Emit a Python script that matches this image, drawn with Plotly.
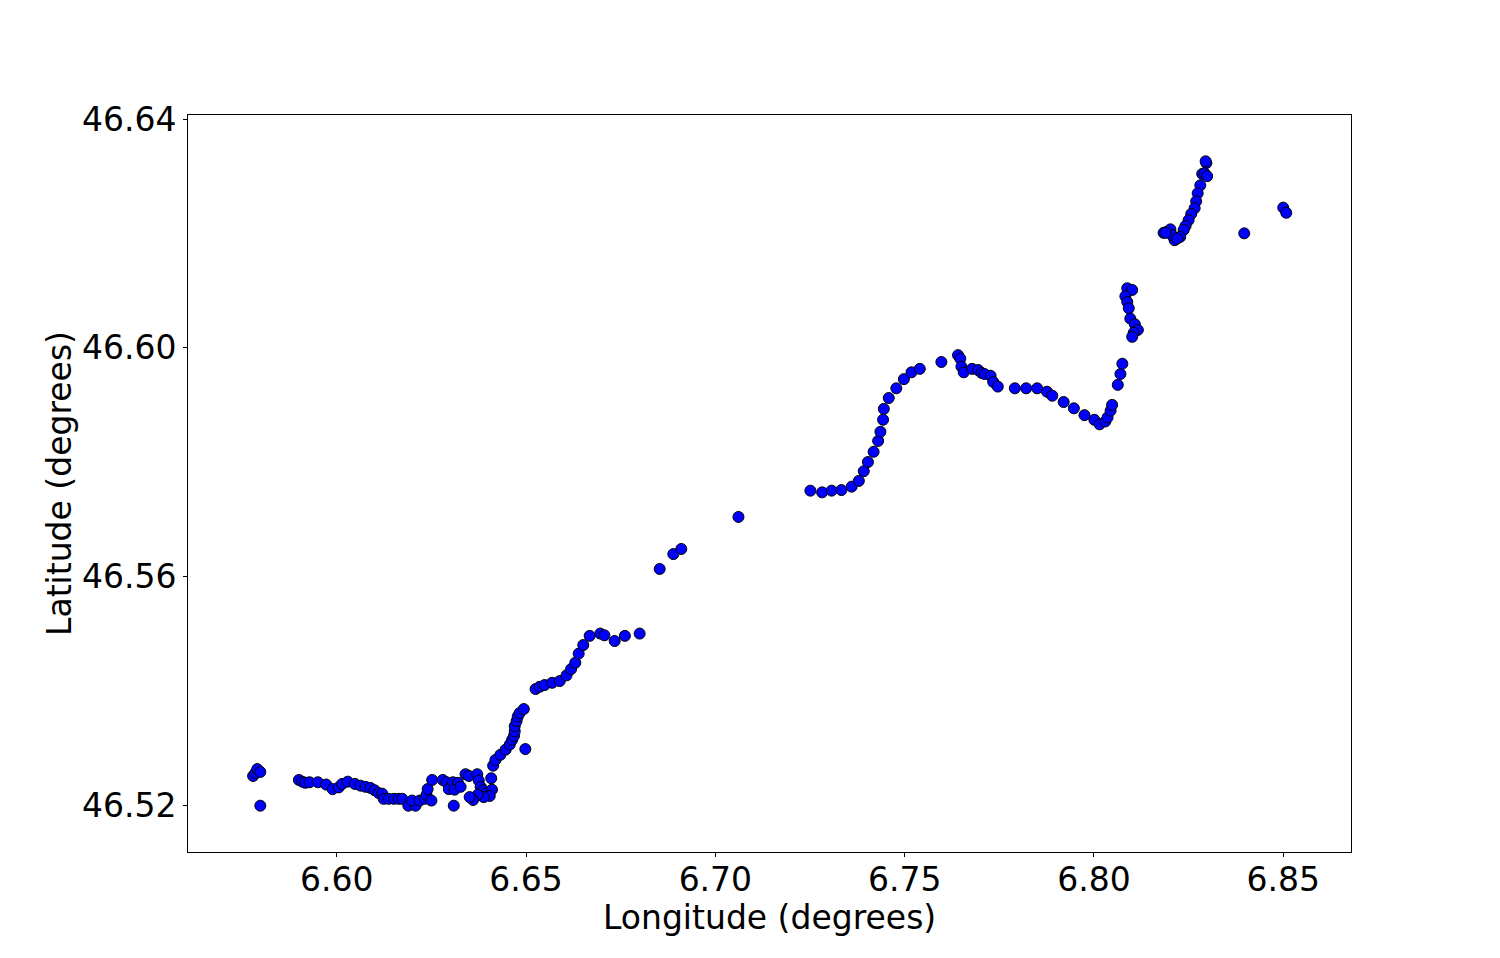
import plotly.graph_objects as go

lon = [
    6.5779, 6.5785, 6.5790, 6.5798, 6.5798,
    6.5900, 6.5909, 6.5917, 6.5928, 6.5950, 6.5972, 6.5989, 6.6005, 6.6014, 6.6029,
    6.6048, 6.6063, 6.6076, 6.6089, 6.6100, 6.6111, 6.6120, 6.6124, 6.6137, 6.6151,
    6.6164, 6.6173, 6.6189, 6.6208, 6.6199, 6.6219, 6.6232, 6.6237, 6.6240, 6.6250,
    6.6252, 6.6280, 6.6290, 6.6296, 6.6307, 6.6320, 6.6311, 6.6327, 6.6309, 6.6340,
    6.6349, 6.6371, 6.6375, 6.6380, 6.6387, 6.6395, 6.6408, 6.6410, 6.6404, 6.6388,
    6.6372, 6.6360, 6.6351, 6.6498,
    6.6413, 6.6419, 6.6432, 6.6446, 6.6457, 6.6463, 6.6468, 6.6470, 6.6470, 6.6475,
    6.6478, 6.6483, 6.6494, 6.6525, 6.6536, 6.6549, 6.6569, 6.6589, 6.6607, 6.6619,
    6.6630, 6.6639, 6.6651, 6.6668, 6.6696, 6.6707, 6.6734, 6.6761, 6.6800,
    6.6853, 6.6889, 6.6910, 6.7061,
    6.7251, 6.7282, 6.7307, 6.7333, 6.7360, 6.7379, 6.7392, 6.7403, 6.7418, 6.7430,
    6.7436, 6.7443, 6.7445, 6.7458, 6.7478, 6.7498, 6.7518, 6.7540, 6.7597, 6.7641,
    6.7647, 6.7650, 6.7656, 6.7678, 6.7694, 6.7703, 6.7711, 6.7727, 6.7734, 6.7746,
    6.7791, 6.7821, 6.7850, 6.7876, 6.7890, 6.7920, 6.7947, 6.7975, 6.8001, 6.8015,
    6.8030, 6.8036, 6.8044, 6.8048, 6.8063, 6.8070, 6.8075,
    6.8088, 6.8101, 6.8083, 6.8088, 6.8092, 6.8096, 6.8108, 6.8116, 6.8105, 6.8101,
    6.8297, 6.8295, 6.8286, 6.8292, 6.8299, 6.8281, 6.8274, 6.8270, 6.8266, 6.8257,
    6.8250, 6.8242, 6.8237, 6.8228, 6.8213, 6.8193, 6.8184, 6.8202, 6.8206, 6.8220,
    6.8189,
    6.8397, 6.8500, 6.8508,
]

lat = [
    46.5251, 46.5256, 46.5263, 46.5258, 46.5199,
    46.5244, 46.5241, 46.5239, 46.5240, 46.5240, 46.5236, 46.5228, 46.5231, 46.5237, 46.5241,
    46.5237, 46.5234, 46.5232, 46.5230, 46.5226, 46.5221, 46.5220, 46.5211, 46.5211, 46.5211,
    46.5211, 46.5211, 46.5199, 46.5199, 46.5208, 46.5208, 46.5211, 46.5218, 46.5228, 46.5208,
    46.5244, 46.5244, 46.5240, 46.5228, 46.5240, 46.5239, 46.5227, 46.5232, 46.5199, 46.5254,
    46.5251, 46.5254, 46.5243, 46.5232, 46.5226, 46.5221, 46.5247, 46.5227, 46.5216, 46.5214,
    46.5218, 46.5209, 46.5214, 46.5298,
    46.5269, 46.5279, 46.5288, 46.5297, 46.5306, 46.5314, 46.5321, 46.5329, 46.5338, 46.5347,
    46.5355, 46.5361, 46.5368, 46.5403, 46.5407, 46.5410, 46.5414, 46.5417, 46.5427, 46.5438,
    46.5449, 46.5465, 46.5480, 46.5496, 46.5500, 46.5497, 46.5487, 46.5496, 46.5500,
    46.5613, 46.5639, 46.5648, 46.5704,
    46.5750, 46.5747, 46.5750, 46.5751, 46.5757, 46.5767, 46.5784, 46.5800, 46.5818, 46.5837,
    46.5853, 46.5874, 46.5893, 46.5912, 46.5929, 46.5945, 46.5957, 46.5963, 46.5975, 46.5987,
    46.5981, 46.5967, 46.5957, 46.5963, 46.5961, 46.5956, 46.5954, 46.5951, 46.5940, 46.5932,
    46.5929, 46.5929, 46.5929, 46.5923, 46.5916, 46.5905, 46.5894, 46.5882, 46.5874, 46.5866,
    46.5871, 46.5878, 46.5890, 46.5900, 46.5935, 46.5954, 46.5972,
    46.6104, 46.6101, 46.6090, 46.6080, 46.6069, 46.6051, 46.6041, 46.6031, 46.6026, 46.6019,
    46.6323, 46.6326, 46.6304, 46.6305, 46.6300, 46.6284, 46.6270, 46.6256, 46.6244, 46.6234,
    46.6223, 46.6213, 46.6206, 46.6194, 46.6188, 46.6203, 46.6201, 46.6207, 46.6197, 46.6191,
    46.6201,
    46.6200, 46.6245, 46.6236,
]

x_ticks = [6.60, 6.65, 6.70, 6.75, 6.80, 6.85]
y_ticks = [46.52, 46.56, 46.60, 46.64]

fig = go.Figure(
    go.Scatter(
        x=lon, y=lat, mode="markers",
        marker=dict(size=11, color="blue", line=dict(color="black", width=1)),
        showlegend=False,
    )
)

font_family = "DejaVu Sans, sans-serif"
axis_common = dict(
    showline=True, linecolor="black", linewidth=1, mirror=True,
    ticks="outside", ticklen=4, tickwidth=1, tickcolor="black",
    showgrid=False, zeroline=False,
    tickfont=dict(family=font_family, size=33, color="black"),
)

fig.update_layout(
    width=1484, height=942,
    paper_bgcolor="white", plot_bgcolor="white",
    margin=dict(l=180, r=141, t=107, b=98),
    font=dict(family=font_family, color="black"),
    xaxis=dict(
        range=[6.5607, 6.8679],
        tickvals=x_ticks, ticktext=[f"{v:.2f}" for v in x_ticks],
        ticklabelstandoff=-6,
        **axis_common,
    ),
    yaxis=dict(
        range=[46.5118, 46.6407],
        tickvals=y_ticks, ticktext=[f"{v:.2f}" for v in y_ticks],
        title=dict(text="Latitude (degrees)", font=dict(family=font_family, size=33, color="black"), standoff=0),
        **axis_common,
    ),
    annotations=[
        dict(
            text="Longitude (degrees)", xref="paper", yref="paper",
            x=0.5, y=0, xanchor="center", yanchor="middle", yshift=-65,
            showarrow=False, font=dict(family=font_family, size=33, color="black"),
        )
    ],
)

fig.write_html("out.html")
